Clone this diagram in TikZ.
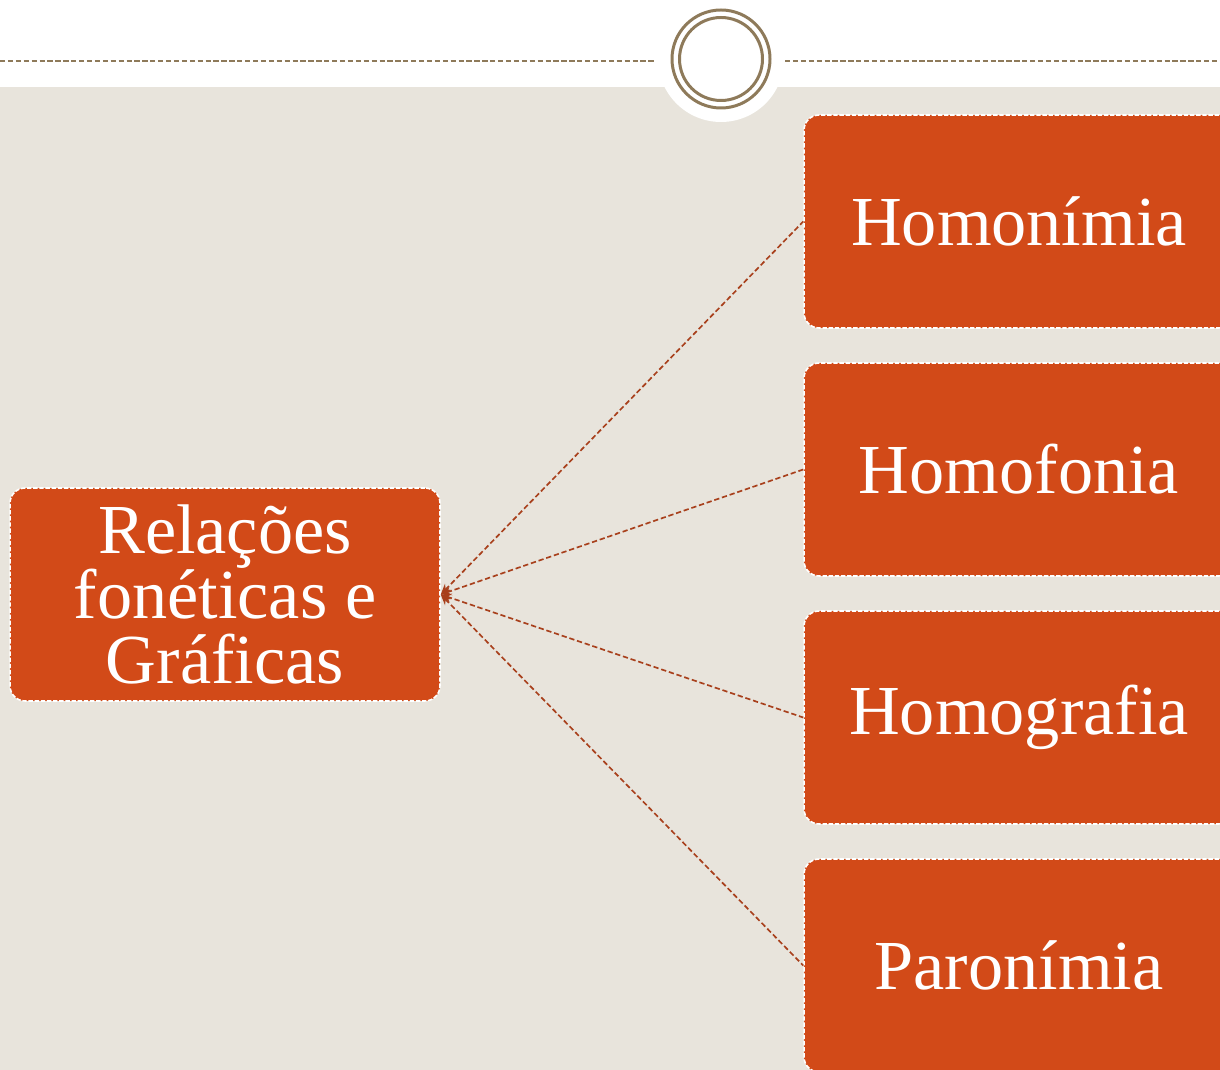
\documentclass[tikz,border=0pt]{standalone}
\usepackage{fontspec}
\setmainfont{Liberation Serif}
\usetikzlibrary{arrows.meta}

\definecolor{rust}{HTML}{D24A18}
\definecolor{sand}{HTML}{E8E4DC}
\definecolor{bronze}{HTML}{8E7A5A}
\definecolor{linkc}{HTML}{A8401C}

\tikzset{
	topic/.style={draw=white, dash pattern=on 2.5pt off 1pt, line width=0.9pt, fill=rust,
		rounded corners=0.3cm, minimum width=8.6cm, minimum height=4.26cm,
		text=white, font=\fontsize{40}{36.8}\selectfont, align=center, inner sep=0pt},
	link/.style={draw=linkc, dash pattern=on 3pt off 1.6pt, line width=0.95pt, {Stealth[length=6pt,width=5pt]}-}
}

\begin{document}
\begin{tikzpicture}[x=0.02cm, y=-0.02cm]

	\useasboundingbox (0,0) rectangle (1220,1070);
	\clip (0,0) rectangle (1220,1070);

	% background and header
	\fill[white] (0,0) rectangle (1220,87);
	\fill[sand] (0,87) rectangle (1220,1070);
	\draw[bronze, line width=0.6pt, dash pattern=on 3pt off 1.5pt] (0,61) -- (655,61);
	\draw[bronze, line width=0.6pt, dash pattern=on 3pt off 1.5pt] (785,61) -- (1220,61);
	\fill[white] (721,59) circle (63);
	\draw[bronze, line width=1.7pt] (721,59) circle (49);
	\draw[bronze, line width=1.7pt] (721,59) circle (41.5);

	% boxes
	\node[topic] (rel) at (225,594.5) {Relações\\fonéticas e\\Gráficas};
	\node[topic] (hmn) at (1019,221.5) {Homonímia};
	\node[topic] (hmf) at (1019,469.5) {Homofonia};
	\node[topic] (hmg) at (1019,717.5) {Homografia};
	\node[topic] (par) at (1019,965.5) {Paronímia};

	% links
	\draw[link] (rel.east) -- (hmn.west);
	\draw[link] (rel.east) -- (hmf.west);
	\draw[link] (rel.east) -- (hmg.west);
	\draw[link] (rel.east) -- (par.west);

\end{tikzpicture}
\end{document}
